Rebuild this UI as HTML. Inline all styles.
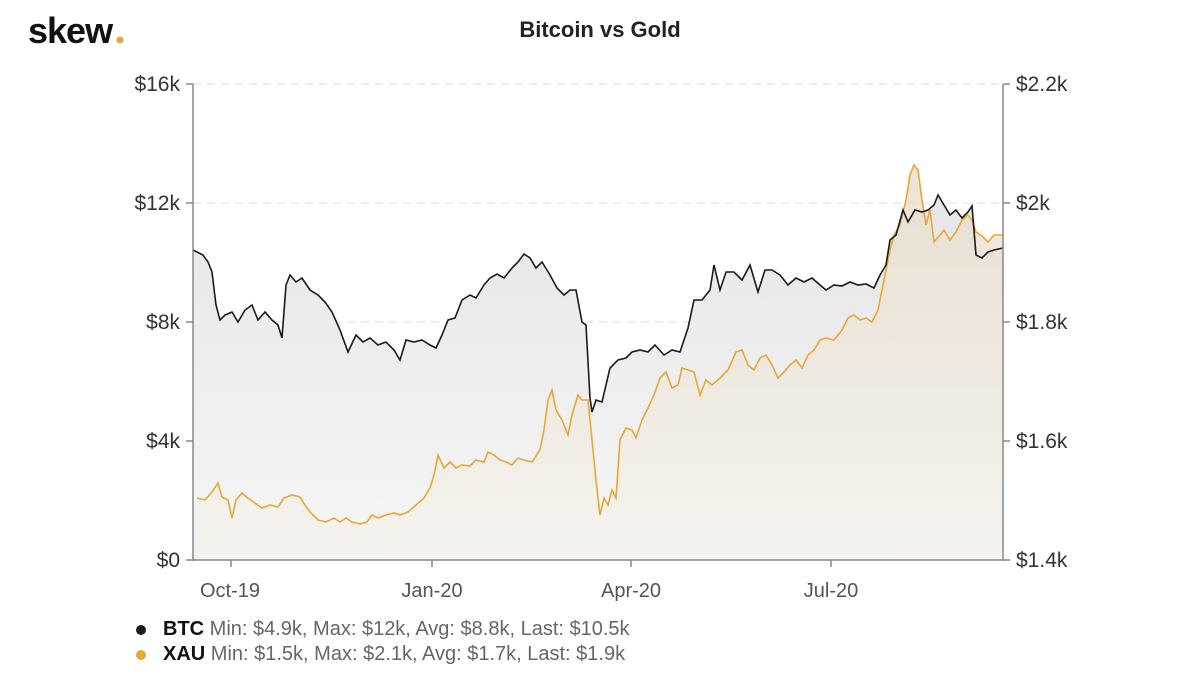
<!DOCTYPE html>
<html><head><meta charset="utf-8"><style>
body{margin:0;width:1200px;height:670px;background:#fff;overflow:hidden;font-family:"Liberation Sans",sans-serif}
</style></head><body>
<svg width="1200" height="670" xmlns="http://www.w3.org/2000/svg" font-family="Liberation Sans, sans-serif">
<defs>
<linearGradient id="g1" x1="0" y1="0" x2="0" y2="1"><stop offset="0" stop-color="#e6e6e6"/><stop offset="1" stop-color="#f6f6f6"/></linearGradient>
<linearGradient id="g2" x1="0" y1="0" x2="0" y2="1"><stop offset="0" stop-color="#e8dcc8" stop-opacity="0.8"/><stop offset="1" stop-color="#f5f1ea" stop-opacity="0.6"/></linearGradient>
</defs>
<text x="28" y="43" font-size="36" font-weight="bold" fill="#111" letter-spacing="-1">skew</text>
<circle cx="120" cy="40" r="3.5" fill="#e8a835"/>
<text x="600" y="37" font-size="22" font-weight="bold" fill="#222" text-anchor="middle">Bitcoin vs Gold</text>
<g stroke="#ddd" stroke-dasharray="8,6" stroke-width="1">
<line x1="193" y1="84" x2="1003" y2="84"/><line x1="193" y1="203" x2="1003" y2="203"/><line x1="193" y1="322" x2="1003" y2="322"/><line x1="193" y1="441" x2="1003" y2="441"/>
</g>
<path fill="url(#g1)" d="M193,560 L193,250 203,255 208,262 212,272 216,305 220,320 225,315 232,312 238,322 245,310 252,305 258,320 265,312 272,320 278,325 282,338 286,285 290,275 296,282 302,278 310,290 318,295 325,302 332,312 340,330 348,352 356,335 363,342 370,338 378,345 386,342 394,350 400,360 406,340 414,342 422,340 430,345 436,348 442,335 448,320 455,318 462,300 470,295 476,298 484,285 490,278 497,274 504,278 512,268 518,262 524,254 530,258 536,268 542,262 550,275 557,288 564,295 570,290 576,290 582,322 586,325 590,398 592,412 596,400 602,402 610,368 618,360 626,358 632,352 640,350 648,352 655,345 664,355 672,350 680,352 688,328 694,300 702,300 710,290 714,265 720,290 726,272 734,272 742,280 750,265 758,292 765,270 772,270 780,275 788,285 796,278 804,282 812,278 820,285 826,290 834,285 842,286 850,282 858,285 866,284 874,288 880,275 886,265 890,240 896,235 903,210 908,222 915,210 922,212 928,210 934,205 938,195 944,205 950,215 956,210 962,218 968,212 972,206 976,255 982,258 988,252 994,250 1003,248 L1003,560Z"/>
<path fill="url(#g2)" d="M193,560 L197,498 205,500 212,492 218,483 222,497 228,500 232,518 236,500 242,493 248,498 255,503 262,508 270,505 278,507 284,498 292,495 300,497 305,505 310,512 318,520 326,522 334,518 340,522 346,518 352,522 360,524 367,522 372,515 378,518 386,515 394,513 400,515 408,512 416,505 424,498 430,488 434,475 438,455 444,468 450,462 456,468 462,465 470,466 476,460 484,462 488,452 494,455 500,460 506,462 512,465 518,458 524,460 532,462 540,450 544,430 548,400 552,390 556,410 562,420 568,435 572,415 578,395 582,400 588,400 592,440 596,480 600,515 604,498 608,505 612,490 616,498 620,440 626,428 632,430 636,438 642,420 648,408 654,395 660,378 666,372 672,388 678,385 682,368 688,370 694,372 700,395 706,380 712,385 720,378 728,370 736,352 742,350 748,365 754,370 760,358 766,355 772,365 778,378 784,372 790,365 796,360 802,368 808,355 814,350 820,340 826,338 834,340 842,330 848,318 854,315 860,320 866,318 872,322 878,310 882,290 886,270 890,250 894,235 900,225 906,200 910,175 914,165 918,170 922,200 926,225 930,210 934,242 940,235 944,230 950,240 956,232 962,220 968,215 972,220 976,232 982,236 988,242 994,235 1003,235 L1003,560Z"/>
<polyline fill="none" stroke="#e8a835" stroke-width="1.6" points="197,498 205,500 212,492 218,483 222,497 228,500 232,518 236,500 242,493 248,498 255,503 262,508 270,505 278,507 284,498 292,495 300,497 305,505 310,512 318,520 326,522 334,518 340,522 346,518 352,522 360,524 367,522 372,515 378,518 386,515 394,513 400,515 408,512 416,505 424,498 430,488 434,475 438,455 444,468 450,462 456,468 462,465 470,466 476,460 484,462 488,452 494,455 500,460 506,462 512,465 518,458 524,460 532,462 540,450 544,430 548,400 552,390 556,410 562,420 568,435 572,415 578,395 582,400 588,400 592,440 596,480 600,515 604,498 608,505 612,490 616,498 620,440 626,428 632,430 636,438 642,420 648,408 654,395 660,378 666,372 672,388 678,385 682,368 688,370 694,372 700,395 706,380 712,385 720,378 728,370 736,352 742,350 748,365 754,370 760,358 766,355 772,365 778,378 784,372 790,365 796,360 802,368 808,355 814,350 820,340 826,338 834,340 842,330 848,318 854,315 860,320 866,318 872,322 878,310 882,290 886,270 890,250 894,235 900,225 906,200 910,175 914,165 918,170 922,200 926,225 930,210 934,242 940,235 944,230 950,240 956,232 962,220 968,215 972,220 976,232 982,236 988,242 994,235 1003,235"/>
<polyline fill="none" stroke="#1a1a1a" stroke-width="1.6" points="193,250 203,255 208,262 212,272 216,305 220,320 225,315 232,312 238,322 245,310 252,305 258,320 265,312 272,320 278,325 282,338 286,285 290,275 296,282 302,278 310,290 318,295 325,302 332,312 340,330 348,352 356,335 363,342 370,338 378,345 386,342 394,350 400,360 406,340 414,342 422,340 430,345 436,348 442,335 448,320 455,318 462,300 470,295 476,298 484,285 490,278 497,274 504,278 512,268 518,262 524,254 530,258 536,268 542,262 550,275 557,288 564,295 570,290 576,290 582,322 586,325 590,398 592,412 596,400 602,402 610,368 618,360 626,358 632,352 640,350 648,352 655,345 664,355 672,350 680,352 688,328 694,300 702,300 710,290 714,265 720,290 726,272 734,272 742,280 750,265 758,292 765,270 772,270 780,275 788,285 796,278 804,282 812,278 820,285 826,290 834,285 842,286 850,282 858,285 866,284 874,288 880,275 886,265 890,240 896,235 903,210 908,222 915,210 922,212 928,210 934,205 938,195 944,205 950,215 956,210 962,218 968,212 972,206 976,255 982,258 988,252 994,250 1003,248"/>
<g stroke="#888" stroke-width="1.5" fill="none">
<line x1="193" y1="84" x2="193" y2="561"/><line x1="1003" y1="84" x2="1003" y2="561"/><line x1="186" y1="560" x2="1010" y2="560"/>
<line x1="186" y1="84" x2="193" y2="84"/><line x1="186" y1="203" x2="193" y2="203"/><line x1="186" y1="322" x2="193" y2="322"/><line x1="186" y1="441" x2="193" y2="441"/>
<line x1="1003" y1="84" x2="1010" y2="84"/><line x1="1003" y1="203" x2="1010" y2="203"/><line x1="1003" y1="322" x2="1010" y2="322"/><line x1="1003" y1="441" x2="1010" y2="441"/>
<line x1="231" y1="560" x2="231" y2="567"/><line x1="432" y1="560" x2="432" y2="567"/><line x1="631" y1="560" x2="631" y2="567"/><line x1="831" y1="560" x2="831" y2="567"/>
</g>
<g font-size="21" fill="#333" text-anchor="end">
<text x="180" y="91">$16k</text><text x="180" y="210">$12k</text><text x="180" y="329">$8k</text><text x="180" y="448">$4k</text><text x="180" y="567">$0</text>
</g>
<g font-size="21" fill="#333">
<text x="1016" y="91">$2.2k</text><text x="1016" y="210">$2k</text><text x="1016" y="329">$1.8k</text><text x="1016" y="448">$1.6k</text><text x="1016" y="567">$1.4k</text>
</g>
<g font-size="20" fill="#555" text-anchor="middle">
<text x="230" y="597">Oct-19</text><text x="432" y="597">Jan-20</text><text x="631" y="597">Apr-20</text><text x="831" y="597">Jul-20</text>
</g>
<circle cx="141" cy="630" r="5" fill="#1a1a1a"/>
<circle cx="141" cy="655" r="5" fill="#e8a835"/>
<text x="163" y="635" font-size="20" fill="#666"><tspan font-weight="bold" fill="#111">BTC</tspan> Min: $4.9k, Max: $12k, Avg: $8.8k, Last: $10.5k</text>
<text x="163" y="660" font-size="20" fill="#666"><tspan font-weight="bold" fill="#111">XAU</tspan> Min: $1.5k, Max: $2.1k, Avg: $1.7k, Last: $1.9k</text>
</svg>
</body></html>
